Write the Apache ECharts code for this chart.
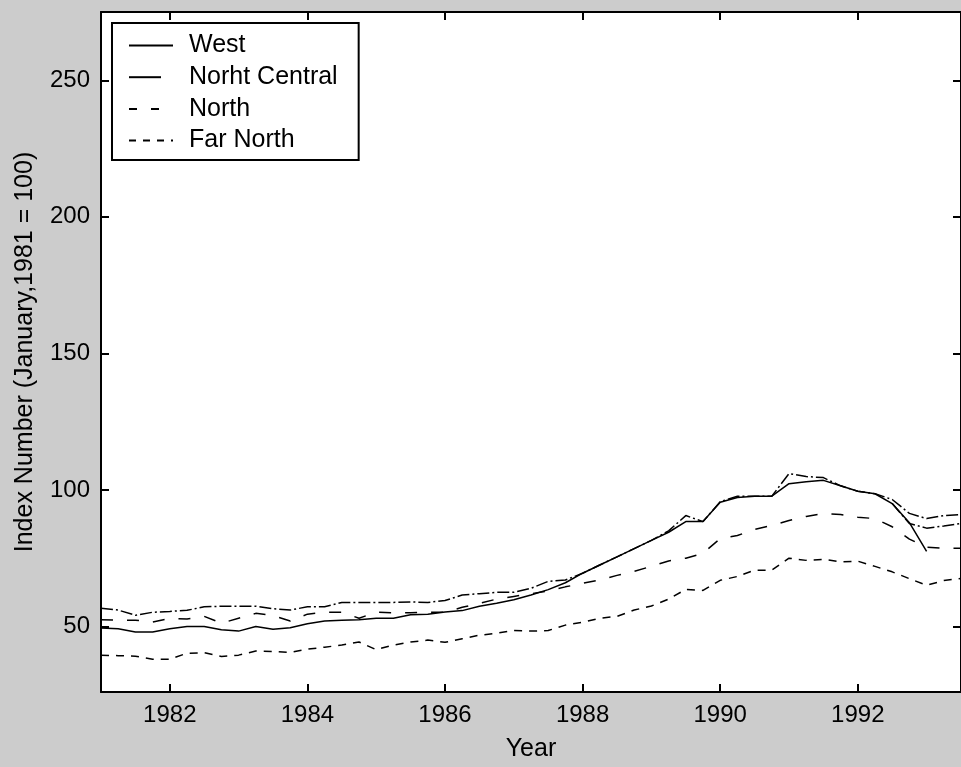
<!DOCTYPE html>
<html>
<head>
<meta charset="utf-8">
<script src="https://cdn.jsdelivr.net/npm/echarts@6/dist/echarts.min.js"></script>
<style>
html,body{margin:0;padding:0;background:#cccccc;}
#chart{width:961px;height:767px;}
</style>
</head>
<body>
<div id="chart"></div>
<script>
// Time in years (quarterly readings)
const years = [
 1981.00,1981.25,1981.50,1981.75,1982.00,1982.25,1982.50,1982.75,
 1983.00,1983.25,1983.50,1983.75,1984.00,1984.25,1984.50,1984.75,
 1985.00,1985.25,1985.50,1985.75,1986.00,1986.25,1986.50,1986.75,
 1987.00,1987.25,1987.50,1987.75,1988.00,1988.25,1988.50,1988.75,
 1989.00,1989.25,1989.50,1989.75,1990.00,1990.25,1990.50,1990.75,
 1991.00,1991.25,1991.50,1991.75,1992.00,1992.25,1992.50,1992.75,
 1993.00,1993.25,1993.50
];
const west = [
 49.4,49.2,48.0,48.0,49.2,50.0,50.0,48.8,
 48.3,50.0,49.0,49.5,51.0,52.0,52.3,52.5,
 53.0,53.0,54.3,54.5,55.3,55.8,57.4,58.5,
 59.8,61.5,63.5,66.0,69.5,72.5,75.5,78.5,
 81.5,84.5,88.4,88.4,95.5,97.2,97.7,97.7,
 102.3,103.0,103.5,101.5,99.5,98.6,95.0,88.0,
 77.5,null,null
];
const northCentral = [
 56.7,56.0,54.1,55.2,55.5,55.9,57.2,57.4,
 57.4,57.4,56.5,56.0,57.2,57.2,58.8,58.8,
 58.8,58.8,59.0,58.8,59.5,61.5,62.0,62.5,
 62.5,64.0,66.5,67.0,69.5,72.5,75.5,78.5,
 81.5,85.0,90.6,88.4,95.7,97.7,97.7,97.7,
 106.0,104.9,104.5,101.5,99.5,98.6,96.5,91.4,
 89.5,90.6,91.0
];
// unlabelled solid line that leaves the West curve late in 1992
const westTail = [
 null,null,null,null,null,null,null,null,
 null,null,null,null,null,null,null,null,
 null,null,null,null,null,null,null,null,
 null,null,null,null,null,null,null,null,
 null,null,null,null,null,null,null,null,
 null,null,null,null,null,null,95.0,87.7,
 86.0,86.8,87.7
];
const north = [
 52.5,52.3,52.3,51.6,53.0,52.7,53.7,51.2,
 53.0,54.8,54.0,52.0,54.5,55.2,55.2,53.0,
 55.2,55.0,55.0,55.2,55.2,57.0,58.5,60.0,
 61.0,62.0,63.0,64.5,65.8,67.0,68.7,70.2,
 72.0,74.0,75.0,76.8,82.2,83.3,85.5,87.0,
 88.8,90.3,91.4,91.0,90.0,89.5,86.5,82.0,
 79.0,78.6,78.6
];
const farNorth = [
 39.5,39.3,39.1,38.0,38.0,40.2,40.4,39.0,
 39.5,41.0,40.8,40.5,41.7,42.4,43.2,44.3,
 41.5,43.2,44.3,45.0,44.2,45.5,46.8,47.5,
 48.5,48.3,48.5,50.5,51.5,53.0,53.7,56.0,
 57.5,60.0,63.6,63.2,66.9,68.3,70.6,70.6,
 75.0,74.2,74.6,73.7,73.9,72.0,70.0,67.5,
 65.1,66.8,67.6
];
const seriesNames = ['West','Norht Central','North','Far North'];
const xTicks = [1982,1984,1986,1988,1990,1992];
const yTicks = [50,100,150,200,250];

const FONT = '"Liberation Sans", Arial, Helvetica, sans-serif';
const pairs = arr => years.map((t,i)=>[t,arr[i]]);

const chart = echarts.init(document.getElementById('chart'), null, {renderer:'canvas'});
const axisLine = {show:true, onZero:false, lineStyle:{color:'#000', width:2}};
const tickIn = (vals)=>({show:true, inside:true, length:8, customValues:vals, lineStyle:{color:'#000', width:2}});

const lineCommon = {type:'line', showSymbol:false, symbol:'none', xAxisIndex:0, yAxisIndex:0, animation:false, connectNulls:false};
const dashDot = [12,3,2,3];

chart.setOption({
  backgroundColor:'#cccccc',
  animation:false,
  grid:{left:101, top:12, width:866, height:682, show:true, backgroundColor:'#ffffff', borderWidth:0},
  legend:{
    show:true, orient:'vertical', left:112, top:23,
    padding:[10,21,7,16], itemGap:6.7, itemWidth:44, itemHeight:14,
    backgroundColor:'#ffffff', borderColor:'#000', borderWidth:2, borderRadius:0,
    itemStyle:{opacity:0, borderWidth:0, color:'rgba(0,0,0,0)'},
    textStyle:{fontFamily:FONT, fontSize:25, color:'#000', lineHeight:25, padding:[0,0,0,11]},
    data:[
      {name:'West'},
      {name:'Norht Central', lineStyle:{type:[32,100]}},
      {name:'North', lineStyle:{type:[8,14]}},
      {name:'Far North', lineStyle:{type:[7,7]}}
    ],
    selectedMode:false
  },
  xAxis:[
    {type:'value', position:'bottom', min:1981, max:1993.5,
     axisLine:axisLine, axisTick:tickIn(xTicks),
     axisLabel:{show:true, customValues:xTicks, margin:11, fontFamily:FONT, fontSize:24, color:'#000', formatter:v=>String(v)},
     splitLine:{show:false},
     name:'Year', nameLocation:'middle', nameGap:45,
     nameTextStyle:{fontFamily:FONT, fontSize:25, color:'#000'}},
    {type:'value', position:'top', min:1981, max:1993.5,
     axisLine:axisLine, axisTick:tickIn(xTicks), axisLabel:{show:false}, splitLine:{show:false}}
  ],
  yAxis:[
    {type:'value', position:'left', min:26, max:275,
     axisLine:axisLine, axisTick:tickIn(yTicks),
     axisLabel:{show:true, customValues:yTicks, margin:11, fontFamily:FONT, fontSize:24, color:'#000'},
     splitLine:{show:false},
     name:'Index Number (January,1981 = 100)', nameLocation:'middle', nameGap:63, nameRotate:90,
     nameTextStyle:{fontFamily:FONT, fontSize:25, color:'#000'}},
    {type:'value', position:'right', min:26, max:275,
     axisLine:axisLine, axisTick:tickIn(yTicks), axisLabel:{show:false}, splitLine:{show:false}}
  ],
  series:[
    Object.assign({}, lineCommon, {name:seriesNames[0], data:pairs(west), lineStyle:{color:'#000', width:1.5, type:'solid'}, itemStyle:{color:'#000'}}),
    Object.assign({}, lineCommon, {name:seriesNames[1], data:pairs(northCentral), lineStyle:{color:'#000', width:1.5, type:dashDot}, itemStyle:{color:'#000'}}),
    Object.assign({}, lineCommon, {name:seriesNames[2], data:pairs(north), lineStyle:{color:'#000', width:1.5, type:[12,14]}, itemStyle:{color:'#000'}}),
    Object.assign({}, lineCommon, {name:seriesNames[3], data:pairs(farNorth), lineStyle:{color:'#000', width:1.5, type:[8,7]}, itemStyle:{color:'#000'}}),
    Object.assign({}, lineCommon, {name:'West (tail)', data:pairs(westTail), lineStyle:{color:'#000', width:1.5, type:dashDot}, itemStyle:{color:'#000'}})
  ]
});
</script>
</body>
</html>
